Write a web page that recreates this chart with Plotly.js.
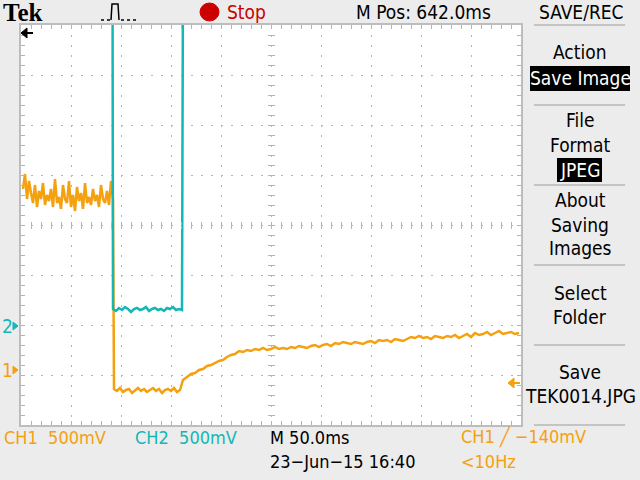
<!DOCTYPE html>
<html>
<head>
<meta charset="utf-8">
<script src="https://cdn.plot.ly/plotly-3.0.1.min.js"></script>
<style>html,body{margin:0;padding:0;background:#ececec;}#plot{width:640px;height:480px;}</style>
</head>
<body>
<div id="plot"></div>
<script>
// ---- data (time in ms, voltage in V relative to each channel's ground) ----
const timeRange = [392, 892];           // 10 div x 50 ms, M Pos 642.0 ms at centre
const ch1Scale = 0.5, ch2Scale = 0.5;   // V/div
const triggerLevel = -0.14;             // V on CH1

// CH1 segment 1: before the step (2 ms sampling from 394 ms)
const ch1Seg1Start = 394, ch1Seg1Step = 2;
const ch1Seg1 = [1.80, 1.95, 1.70, 1.88, 1.76, 1.66, 1.84, 1.62, 1.78, 1.70, 1.86, 1.64, 1.74, 1.68, 1.80, 1.62,
  1.90, 1.66, 1.72, 1.60, 1.84, 1.70, 1.66, 1.88, 1.62, 1.74, 1.58, 1.82, 1.68, 1.76, 1.60, 1.86, 1.66, 1.72,
  1.64, 1.80, 1.68, 1.74, 1.62, 1.84, 1.70, 1.66, 1.78, 1.64, 1.88, 1.70];
// CH1 segment 2: low level during CH2 pulse (3 ms sampling from 485 ms)
const ch1Seg2Start = 485, ch1Seg2Step = 3;
const ch1Seg2 = [-0.20, -0.22, -0.19, -0.23, -0.21, -0.20, -0.24, -0.21, -0.19, -0.22, -0.20, -0.23, -0.21,
  -0.19, -0.22, -0.20, -0.24, -0.21, -0.20, -0.22, -0.19, -0.23, -0.21];
// CH1 segment 3: recovery (4 ms sampling from 554 ms)
const ch1Seg3Start = 554, ch1Seg3Step = 4;
const ch1Seg3 = [-0.11, -0.08, -0.05, -0.04, -0.01, 0.00, 0.03, 0.04, 0.06, 0.08, 0.09, 0.12, 0.14, 0.15, 0.18,
  0.17, 0.19, 0.18, 0.20, 0.19, 0.21, 0.19, 0.20, 0.22, 0.20, 0.21, 0.20, 0.22, 0.21, 0.23, 0.22, 0.21, 0.23,
  0.24, 0.22, 0.24, 0.25, 0.23, 0.26, 0.25, 0.27, 0.26, 0.25, 0.27, 0.26, 0.25, 0.27, 0.28, 0.26, 0.29, 0.28,
  0.29, 0.27, 0.30, 0.29, 0.28, 0.30, 0.32, 0.31, 0.33, 0.31, 0.32, 0.30, 0.33, 0.32, 0.31, 0.33, 0.32, 0.34,
  0.31, 0.33, 0.35, 0.32, 0.36, 0.34, 0.35, 0.37, 0.34, 0.36, 0.38, 0.35, 0.36, 0.37, 0.35, 0.36];

// CH2: high (off screen) -> low pulse -> high
const ch2HighLevel = 3.6;
const ch2HighBefore = [392, 483.5];
const ch2HighAfter = [554, 892];
const ch2LowStart = 484, ch2LowStep = 3;
const ch2Low = [0.17, 0.15, 0.18, 0.16, 0.19, 0.17, 0.14, 0.17, 0.18, 0.16, 0.17, 0.19, 0.15, 0.17, 0.18, 0.16,
  0.17, 0.15, 0.18, 0.17, 0.19, 0.16, 0.17, 0.16];

// ---- build traces ----
function seg(start, step, vals) { return { t: vals.map((v, i) => start + i * step), v: vals }; }
const s1 = seg(ch1Seg1Start, ch1Seg1Step, ch1Seg1);
const s2 = seg(ch1Seg2Start, ch1Seg2Step, ch1Seg2);
const s3 = seg(ch1Seg3Start, ch1Seg3Step, ch1Seg3);
const ch1T = s1.t.concat(s2.t, s3.t), ch1V = s1.v.concat(s2.v, s3.v);
const sl = seg(ch2LowStart, ch2LowStep, ch2Low);
const ch2T = ch2HighBefore.concat(sl.t, ch2HighAfter);
const ch2V = ch2HighBefore.map(() => ch2HighLevel).concat(sl.v, ch2HighAfter.map(() => ch2HighLevel));

const ORANGE = '#f5a00f', CYAN = '#14b6b6', GRID = '#b4b4b4', BG = '#ececec';
const L = 21, R = 521, T = 25, B = 425;
const PX = x => (x - L) / (R - L), PY = y => (B - y) / (B - T);

// ranges so that grounds sit at the marker positions
const ch1Range = [-1.12 * ch1Scale, 6.88 * ch1Scale];
const ch2Range = [-1.98 * ch2Scale, 6.02 * ch2Scale];

const traces = [
  { x: ch1T, y: ch1V, type: 'scatter', mode: 'lines', line: { color: ORANGE, width: 2.5 }, xaxis: 'x', yaxis: 'y', hoverinfo: 'skip' },
  { x: ch2T, y: ch2V, type: 'scatter', mode: 'lines', line: { color: CYAN, width: 2.5 }, xaxis: 'x', yaxis: 'y2', hoverinfo: 'skip' },
  { x: [], y: [], type: 'scatter', xaxis: 'x2', yaxis: 'y' },
  { x: [], y: [], type: 'scatter', xaxis: 'x3', yaxis: 'y' },
  { x: [], y: [], type: 'scatter', xaxis: 'x', yaxis: 'y3' },
  { x: [], y: [], type: 'scatter', xaxis: 'x', yaxis: 'y4' }
];

const tickStyle = { ticks: 'inside', ticklen: 4, tickcolor: GRID, tickwidth: 1, showticklabels: false, zeroline: false };
const crossX = Object.assign({}, tickStyle, { overlaying: 'x', anchor: 'free', position: 0.5, range: timeRange, tick0: timeRange[0], dtick: 10, showgrid: false, showline: false, ticklen: 3 });
const crossY = Object.assign({}, tickStyle, { overlaying: 'y', anchor: 'free', position: 0.5, range: ch1Range, tick0: ch1Range[0], dtick: ch1Scale / 5, showgrid: false, showline: false, ticklen: 3 });

const F = 'Liberation Sans Narrow, DejaVu Sans Condensed, Arial Narrow, sans-serif';
function txt(text, x, y, color, size, anchor, extra) {
  return Object.assign({ text: text, xref: 'paper', yref: 'paper', x: PX(x), y: PY(y), xanchor: anchor || 'center', yanchor: 'middle',
    showarrow: false, font: { family: F, size: size || 18, color: color || '#000' } }, extra || {});
}
const annotations = [
  txt('<b>Tek</b>', 2, 12, '#000', 25, 'left', { borderpad: 0, font: { family: 'Liberation Serif, serif', size: 25, color: '#000' } }),
  txt('Stop', 225, 12, '#c80000', 19, 'left'),
  txt('M Pos: 642.0ms', 423, 12, '#000', 19),
  txt('SAVE/REC', 581, 12, '#000', 19),
  txt('Action', 580, 52, '#000', 19),
  txt('Save Image', 580, 78, '#fff', 19),
  txt('File', 580, 120, '#000', 19),
  txt('Format', 580, 145, '#000', 19),
  txt('JPEG', 580, 170, '#fff', 19),
  txt('About', 580, 200, '#000', 19),
  txt('Saving', 580, 225, '#000', 19),
  txt('Images', 580, 248, '#000', 19),
  txt('Select', 580, 293, '#000', 19),
  txt('Folder', 580, 317, '#000', 19),
  txt('Save', 580, 372, '#000', 19),
  txt('TEK0014.JPG', 580, 396, '#000', 19),
  txt('CH1  500mV', 2, 437, ORANGE, 18, 'left'),
  txt('CH2  500mV', 133, 437, CYAN, 18, 'left'),
  txt('M 50.0ms', 268, 437, '#000', 18, 'left'),
  txt('CH1 \u2571 \u2212140mV', 459, 437, ORANGE, 18, 'left'),
  txt('23\u2212Jun\u221215 16:40', 268, 461, '#000', 18, 'left'),
  txt('<10Hz', 459, 461, ORANGE, 18, 'left'),
  txt('2', 7, 326, CYAN, 19),
  txt('1', 7, 370, ORANGE, 19)
];

function pline(x0, y0, x1, y1, color, width, dash) {
  return { type: 'line', xref: 'paper', yref: 'paper', x0: PX(x0), y0: PY(y0), x1: PX(x1), y1: PY(y1), line: { color: color, width: width || 1.5, dash: dash || 'solid' } };
}
function ppath(pts, color) {
  const d = 'M ' + pts.map(p => PX(p[0]) + ',' + PY(p[1])).join(' L ') + ' Z';
  return { type: 'path', xref: 'paper', yref: 'paper', path: d, fillcolor: color, line: { color: color, width: 1 } };
}
function prect(x0, y0, x1, y1, color) {
  return { type: 'rect', xref: 'paper', yref: 'paper', x0: PX(x0), y0: PY(y0), x1: PX(x1), y1: PY(y1), fillcolor: color, line: { width: 0 }, layer: 'below' };
}
const shapes = [
  // menu separators
  pline(534, 25, 625, 25, '#c4c4c4', 2), pline(534, 105, 625, 105, '#c4c4c4', 2), pline(534, 185, 625, 185, '#c4c4c4', 2),
  pline(534, 265, 625, 265, '#c4c4c4', 2), pline(534, 345, 625, 345, '#c4c4c4', 2), pline(534, 425, 625, 425, '#c4c4c4', 2),
  // highlighted menu boxes
  prect(530, 66, 630, 91, '#000'), prect(557, 158, 602, 182, '#000'),
  // stop indicator
  { type: 'circle', xref: 'paper', yref: 'paper', x0: PX(200), y0: PY(3), x1: PX(219), y1: PY(21), fillcolor: '#cc0000', line: { color: '#cc0000', width: 1 } },
  // trigger type icon
  pline(101, 20, 110, 20, '#000', 1.5, 'dot'),
  { type: 'path', xref: 'paper', yref: 'paper', path: 'M ' + PX(111) + ',' + PY(20) + ' L ' + PX(112) + ',' + PY(4) + ' L ' + PX(118) + ',' + PY(4) + ' L ' + PX(119) + ',' + PY(20), line: { color: '#000', width: 1.5 } },
  pline(121, 20, 136, 20, '#000', 1.5, 'dot'),
  // horizontal position marker (top left)
  ppath([[21, 33], [27, 28], [27, 38]], '#000'), pline(26, 33, 33, 33, '#000', 2),
  // channel ground markers
  ppath([[13, 322], [18, 326], [13, 330]], CYAN),
  ppath([[13, 366], [18, 370], [13, 374]], ORANGE),
  // trigger level marker (right edge, CH1 axis)
  { type: 'path', xref: 'paper', yref: 'y', path: 'M ' + PX(508) + ',' + triggerLevel + ' L ' + PX(514) + ',' + (triggerLevel + 0.05) + ' L ' + PX(514) + ',' + (triggerLevel - 0.05) + ' Z', fillcolor: ORANGE, line: { color: ORANGE, width: 1 } },
  { type: 'line', xref: 'paper', yref: 'y', x0: PX(513), x1: PX(520), y0: triggerLevel, y1: triggerLevel, line: { color: ORANGE, width: 2 } }
];

const layout = {
  width: 640, height: 480,
  margin: { l: L, r: 640 - R, t: T, b: 480 - B, pad: 0 },
  paper_bgcolor: BG, plot_bgcolor: '#ffffff',
  showlegend: false,
  xaxis: Object.assign({}, tickStyle, { range: timeRange, tick0: timeRange[0], dtick: 50, showgrid: true, gridcolor: GRID, gridwidth: 1, griddash: '2px,8px',
    showline: true, linecolor: '#bdbdbd', linewidth: 2, mirror: 'allticks', minor: { dtick: 10, tick0: timeRange[0], ticks: 'inside', ticklen: 4, tickcolor: GRID, showgrid: false } }),
  yaxis: Object.assign({}, tickStyle, { range: ch1Range, tick0: ch1Range[0], dtick: ch1Scale, showgrid: true, gridcolor: GRID, gridwidth: 1, griddash: '2px,8px',
    showline: true, linecolor: '#bdbdbd', linewidth: 2, mirror: 'allticks', minor: { dtick: ch1Scale / 5, tick0: ch1Range[0], ticks: 'inside', ticklen: 4, tickcolor: GRID, showgrid: false } }),
  yaxis2: { overlaying: 'y', range: ch2Range, visible: false, zeroline: false, showgrid: false },
  xaxis2: Object.assign({}, crossX, { side: 'bottom' }),
  xaxis3: Object.assign({}, crossX, { side: 'top' }),
  yaxis3: Object.assign({}, crossY, { side: 'left' }),
  yaxis4: Object.assign({}, crossY, { side: 'right' }),
  annotations: annotations,
  shapes: shapes
};

Plotly.newPlot('plot', traces, layout, { staticPlot: true, displayModeBar: false });
</script>
</body>
</html>
